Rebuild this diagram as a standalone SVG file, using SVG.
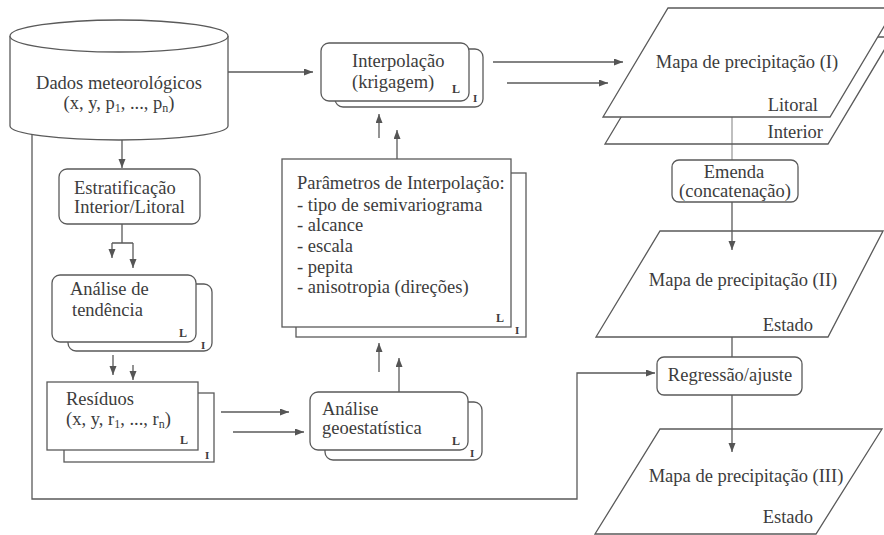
<svg xmlns="http://www.w3.org/2000/svg" width="884" height="535" viewBox="0 0 884 535">
<defs>
<marker id="arr" markerUnits="userSpaceOnUse" markerWidth="10" markerHeight="8" refX="9" refY="3.5" orient="auto">
<path d="M0,0 L9,3.5 L0,7 z" fill="#555"/>
</marker>
<style>
.s{fill:#fff;stroke:#5a5a5a;stroke-width:1.3}
.c{fill:none;stroke:#5a5a5a;stroke-width:1.3}
.a{marker-end:url(#arr)}
text{font-size:18.5px;fill:#3c3c3c}
.m{text-anchor:middle}
.e{text-anchor:end}
.k{font-size:12px;font-weight:bold}
.j{font-size:11px;font-weight:bold}
</style>
</defs>
<rect width="884" height="535" fill="#fff"/>
<g font-family="'Liberation Serif', 'DejaVu Serif', serif">

<g id="connectors">
<path class="c a" d="M228,72 H313"/>
<path class="c a" d="M122,140 V168"/>
<path class="c" d="M122,224 V243 M112,243 H133"/>
<path class="c a" d="M112,243 V258"/>
<path class="c a" d="M133,243 V268"/>
<path class="c a" d="M113,355 V375"/>
<path class="c a" d="M133,365 V380"/>
<path class="c a" d="M221,412 H289"/>
<path class="c a" d="M233,432 H304"/>
<path class="c a" d="M379,372 V343"/>
<path class="c a" d="M399,392 V358"/>
<path class="c a" d="M379,138 V114"/>
<path class="c a" d="M397,159 V130"/>
<path class="c a" d="M493,62 H623"/>
<path class="c a" d="M507,83 H608"/>
<path class="c a" d="M32,127 V499 H577 V373 H655"/>
</g>

<g id="dados">
<path class="s" d="M10,36 V126 A109,14 0 0 0 228,126 V36"/>
<ellipse class="s" cx="119" cy="36" rx="109" ry="16"/>
<text class="m" x="119" y="89">Dados meteorológicos</text>
<text class="m" x="119" y="109">(x, y, p<tspan font-size="12" dy="3">1</tspan><tspan dy="-3">, ..., p</tspan><tspan font-size="12" dy="3">n</tspan><tspan dy="-3">)</tspan></text>
</g>

<g id="estratificacao">
<rect class="s" x="59" y="169" width="141" height="55" rx="8"/>
<text x="74" y="194">Estratificação</text>
<text x="74" y="213">Interior/Litoral</text>
</g>

<g id="tendencia">
<rect class="s" x="68" y="284" width="144" height="67" rx="8"/>
<rect class="s" x="52" y="275" width="144" height="67" rx="8"/>
<text x="70" y="295">Análise de</text>
<text x="72" y="316">tendência</text>
<text class="k" x="179" y="337">L</text>
<text class="j" x="201" y="349">I</text>
</g>

<g id="residuos">
<rect class="s" x="64" y="393" width="150" height="69"/>
<rect class="s" x="47" y="382" width="151" height="68"/>
<text x="66" y="405">Resíduos</text>
<text x="66" y="425">(x, y, r<tspan font-size="12" dy="3">1</tspan><tspan dy="-3">, ..., r</tspan><tspan font-size="12" dy="3">n</tspan><tspan dy="-3">)</tspan></text>
<text class="k" x="180" y="444">L</text>
<text class="j" x="205" y="459">I</text>
</g>

<g id="geoestatistica">
<rect class="s" x="325" y="402" width="157" height="58" rx="8"/>
<rect class="s" x="310" y="392" width="158" height="58" rx="8"/>
<text x="322" y="415">Análise</text>
<text x="322" y="434">geoestatística</text>
<text class="k" x="452" y="445">L</text>
<text class="j" x="470" y="457">I</text>
</g>

<g id="parametros">
<rect class="s" x="296" y="173" width="230" height="164"/>
<rect class="s" x="282" y="159" width="229" height="168"/>
<text x="297" y="189">Parâmetros de Interpolação:</text>
<text x="297" y="211">- tipo de semivariograma</text>
<text x="297" y="231">- alcance</text>
<text x="297" y="252">- escala</text>
<text x="297" y="273">- pepita</text>
<text x="297" y="293">- anisotropia (direções)</text>
<text class="k" x="496" y="322">L</text>
<text class="j" x="515" y="334">I</text>
</g>

<g id="interpolacao">
<rect class="s" x="335" y="49" width="148" height="58" rx="8"/>
<rect class="s" x="321" y="43" width="148" height="58" rx="8"/>
<text x="352" y="67">Interpolação</text>
<text x="352" y="88">(krigagem)</text>
<text class="k" x="452" y="93">L</text>
<text class="j" x="473" y="102">I</text>
</g>

<g id="mapa1">
<polygon class="s" points="669,37 892,37 828,144 605,144"/>
<polygon class="s" points="668,8 895,8 830,117 603,117"/>
<text class="m" x="747" y="68">Mapa de precipitação (I)</text>
<text class="e" x="818" y="111">Litoral</text>
<text class="e" x="823" y="138">Interior</text>
</g>

<g id="emenda-line">
<path class="c" d="M732,117 V160" stroke-opacity="0.6"/>
</g>

<g id="emenda">
<rect class="s" x="672" y="160" width="126" height="42" rx="7"/>
<text class="m" x="734" y="178">Emenda</text>
<text class="m" x="735" y="197">(concatenação)</text>
</g>

<g id="mapa2">
<polygon class="s" points="660,231 883,231 828,337 596,337"/>
<text class="m" x="743" y="286">Mapa de precipitação (II)</text>
<text class="e" x="813" y="331">Estado</text>
</g>

<g id="regressao">
<rect class="s" x="657" y="357" width="145" height="38" rx="7"/>
<text class="m" x="730" y="381">Regressão/ajuste</text>
</g>

<g id="mapa3">
<polygon class="s" points="660,429 882,429 816,534 595,534"/>
<text class="m" x="746" y="482">Mapa de precipitação (III)</text>
<text class="e" x="813" y="523">Estado</text>
</g>

<g id="connectors-right">
<path class="c a" d="M732,202 V250"/>
<path class="c" d="M732,337 V357"/>
<path class="c a" d="M732,395 V452"/>
</g>
</g>
</svg>
